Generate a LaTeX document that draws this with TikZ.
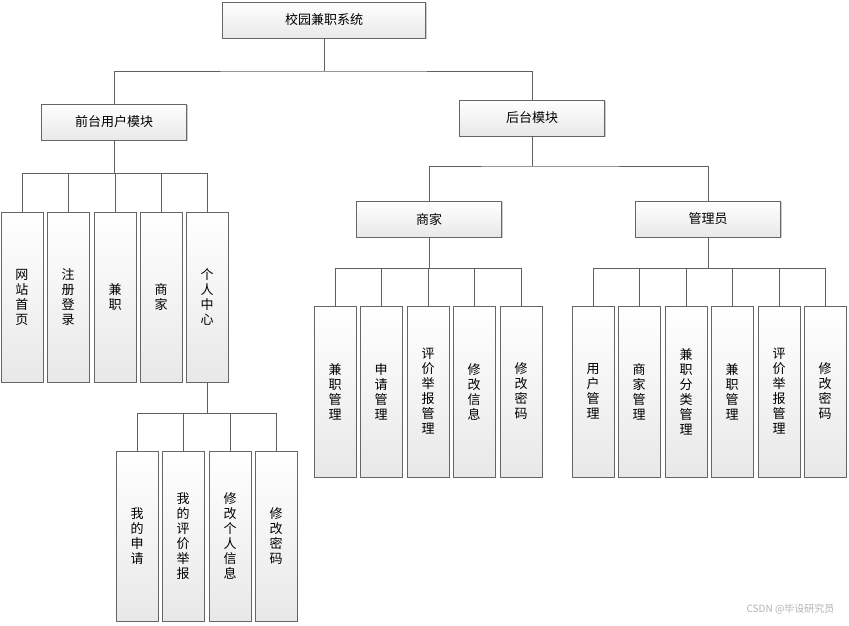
\documentclass[tikz,border=0pt]{standalone}
\usepackage{fontspec}
\newfontfamily\cjk{Noto Sans CJK SC}
\usetikzlibrary{shadows}
\begin{document}
\begin{tikzpicture}[x=1pt,y=-1pt,
 box/.style={draw=gray!80!black,top color=white,bottom color=gray!18,line width=0.7pt,
  drop shadow={shadow xshift=1.2pt,shadow yshift=-1.2pt,opacity=0.4},inner sep=0pt,
  font=\cjk\fontsize{13}{15}\selectfont,align=center},
 hb/.style={box,minimum width=145pt,minimum height=36pt},
 vb/.style={box,minimum width=42pt,minimum height=170pt},
 ln/.style={draw=gray!75!black,line width=0.9pt}]
\useasboundingbox (0,0) rectangle (849,625);
\node[hb,minimum width=203pt] (root) at (324,20) {校园兼职系统};
\node[hb] (qt) at (114,122) {前台用户模块};
\node[hb] (ht) at (532,118) {后台模块};
\node[hb] (sj) at (429,219) {商家};
\node[hb] (gly) at (708,219) {管理员};
% front children
\foreach \n/\x/\t in {a/22/网\\站\\首\\页, b/68/注\\册\\登\\录, c/115/兼\\职, d/161/商\\家, e/207/个\\人\\中\\心}
  \node[vb] (\n) at (\x,297) {\t};
\foreach \n/\x/\t in {f/137/我\\的\\申\\请, g/183/我\\的\\评\\价\\举\\报, h/230/修\\改\\个\\人\\信\\息, i/276/修\\改\\密\\码}
  \node[vb] (\n) at (\x,536) {\t};
\foreach \n/\x/\t in {s1/335/兼\\职\\管\\理, s2/381/申\\请\\管\\理, s3/428/评\\价\\举\\报\\管\\理, s4/474/修\\改\\信\\息, s5/521/修\\改\\密\\码}
  \node[vb,minimum height=171pt] (\n) at (\x,391.5) {\t};
\foreach \n/\x/\t in {m1/593/用\\户\\管\\理, m2/639/商\\家\\管\\理, m3/686/兼\\职\\分\\类\\管\\理, m4/732/兼\\职\\管\\理, m5/779/评\\价\\举\\报\\管\\理, m6/825/修\\改\\密\\码}
  \node[vb,minimum height=171pt] (\n) at (\x,391.5) {\t};
% connectors
\coordinate (r1) at (324,71);
\draw[ln] (root.south) -- (r1);
\draw[ln] (qt.north) |- (r1) -| (ht.north);
\foreach \c in {a,b,c,d,e} \draw[ln] (qt.south) |- (207,173) (\c.north) |- (22,173) -- (207,173);
\draw[ln] (22,173) -- (207,173);
\foreach \c in {f,g,h,i} \draw[ln] (\c.north) -- (\c.north |- 0,413);
\draw[ln] (e.south) -- (207,413);
\draw[ln] (137,413) -- (276,413);
\draw[ln] (ht.south) -- (532,166);
\draw[ln] (sj.north) |- (532,166) -| (gly.north);
\draw[ln] (sj.south) -- (429,268);
\draw[ln] (335,268) -- (521,268);
\foreach \c in {s1,s2,s3,s4,s5} \draw[ln] (\c.north) -- (\c.north |- 0,268);
\draw[ln] (gly.south) -- (708,268);
\draw[ln] (593,268) -- (825,268);
\foreach \c in {m1,m2,m3,m4,m5,m6} \draw[ln] (\c.north) -- (\c.north |- 0,268);
\node[text=gray!60,font=\cjk\fontsize{10}{12}\selectfont,anchor=east] (wm) at (838,609) {CSDN @毕设研究员};
\end{tikzpicture}
\end{document}
